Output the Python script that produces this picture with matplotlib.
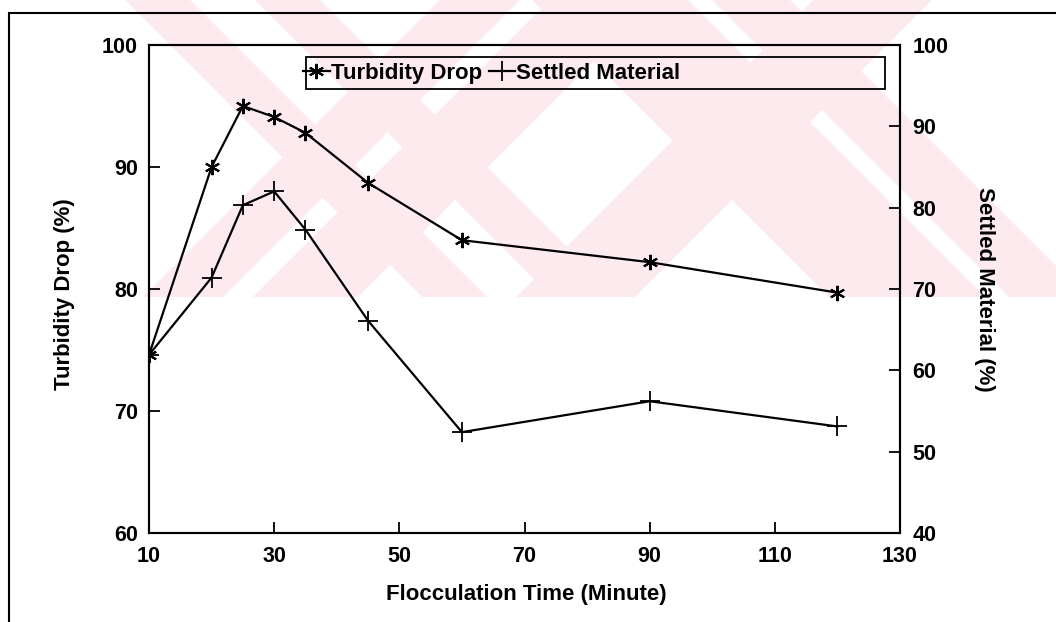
import matplotlib
matplotlib.use("Agg")
import matplotlib.pyplot as plt
import matplotlib.patches as mpatches

# data
time_min = [10, 20, 25, 30, 35, 45, 60, 90, 120]
turbidity_drop = [74.6, 90.0, 95.0, 94.1, 92.8, 88.7, 84.0, 82.2, 79.7]
settled_material = [61.9, 71.4, 80.3, 82.0, 77.3, 66.1, 52.4, 56.2, 53.1]

x_ticks = [10, 30, 50, 70, 90, 110, 130]
left_ticks = [60, 70, 80, 90, 100]
right_ticks = [40, 50, 60, 70, 80, 90, 100]

W, H = 1056, 622
plt.rcParams["font.family"] = ["Liberation Sans", "DejaVu Sans"]
plt.rcParams["font.weight"] = "bold"

fig = plt.figure(figsize=(W / 100, H / 100), dpi=100)


def px(x, y):
    return (x / W, 1 - y / H)


# pale watermark bands in the upper part of the page
pink = "#fdeaee"
band_bottom = 297
bands = [
    (125, 190, 1),
    (255, 320, 1),
    (440, 520, -1),
    (550, 655, -1),
    (532, 688, 1),
    (712, 790, 1),
    (813, 932, -1),
]
for x0, x1, s in bands:
    verts = [px(x0, 0), px(x1, 0), px(x1 + s * band_bottom, band_bottom),
             px(x0 + s * band_bottom, band_bottom)]
    fig.add_artist(mpatches.Polygon(verts, closed=True, transform=fig.transFigure,
                                    facecolor=pink, edgecolor="none", zorder=-2))

# outer page frame
fig.add_artist(mpatches.Rectangle(px(9, 700), 1.2, 700 / H - 14 / H + 0.001,
                                  transform=fig.transFigure, fill=False,
                                  edgecolor="black", linewidth=1.5, zorder=-1))

ax = fig.add_axes([149 / W, 1 - 533 / H, (900 - 149) / W, (533 - 45) / H])
ax.set_facecolor("none")
ax2 = ax.twinx()
ax2.set_facecolor("none")

l1, = ax.plot(time_min, turbidity_drop, color="black", linewidth=1.6,
              marker=(6, 2, 0), markersize=11, markeredgewidth=1.5)
l2, = ax2.plot(time_min, settled_material, color="black", linewidth=1.6,
               marker="+", markersize=14, markeredgewidth=1.3)

ax.set_xlim(10, 130)
ax.set_ylim(60, 100)
ax2.set_ylim(40, 100)
ax.set_xticks(x_ticks)
ax.set_yticks(left_ticks)
ax2.set_yticks(right_ticks)

for a in (ax, ax2):
    for sp in a.spines.values():
        sp.set_linewidth(1.5)
ax.tick_params(axis="x", direction="in", length=8, width=1.3, pad=9,
               labelsize=15.5, top=False)
ax.tick_params(axis="y", direction="in", length=8, width=1.3, pad=8,
               labelsize=15.5)
ax2.tick_params(axis="y", direction="in", length=8, width=1.3, pad=9,
                labelsize=15.5)
for lab in ax.get_xticklabels() + ax.get_yticklabels() + ax2.get_yticklabels():
    lab.set_fontweight("bold")

ax.set_xlabel("Flocculation Time (Minute)", fontsize=16, fontweight="bold")
ax.xaxis.set_label_coords(0.503, -0.105)
ax.set_ylabel("Turbidity Drop (%)", fontsize=16, fontweight="bold",
              va="center", ha="center")
ax.yaxis.set_label_coords(-0.112, 0.49)
ax2.set_ylabel("Settled Material (%)", fontsize=16, fontweight="bold",
               rotation=-90, va="center", ha="center")
ax2.yaxis.set_label_coords(1.113, 0.50)

# legend box spans most of the top of the plot
ax2.add_patch(mpatches.Rectangle((0.209, 0.910), 0.771, 0.065,
                                 transform=ax2.transAxes, fill=False,
                                 edgecolor="black", linewidth=1.3, zorder=5))
leg = ax2.legend([l1, l2], ["Turbidity Drop", "Settled Material"],
                 loc="center left", bbox_to_anchor=(0.205, 0.9425),
                 ncol=2, frameon=False, handlelength=1.2, handletextpad=0.05,
                 columnspacing=0.3, borderaxespad=0, borderpad=0,
                 prop={"size": 16, "weight": "bold"})

fig.savefig("out.png", dpi=100)
